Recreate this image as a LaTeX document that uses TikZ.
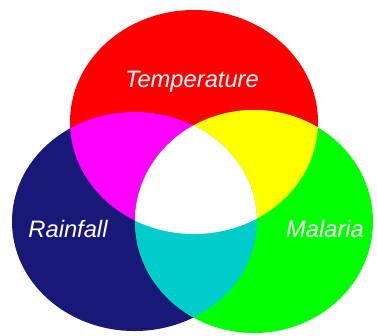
\documentclass[tikz,border=0pt]{standalone}
\usepackage{fontspec}
\setmainfont{Liberation Sans}
\definecolor{heatred}{RGB}{255,0,0}
\definecolor{rainblue}{RGB}{24,24,120}
\definecolor{malgreen}{RGB}{0,255,0}
\definecolor{heatrain}{RGB}{255,0,255}
\definecolor{heatmal}{RGB}{255,255,0}
\definecolor{rainmal}{RGB}{0,204,204}
\begin{document}
\begin{tikzpicture}[
                x=0.02cm, y=-0.02cm,
                tempshape/.style={x radius=124, y radius=112},
                rainshape/.style={x radius=122.5, y radius=109.5},
                malshape/.style={x radius=119, y radius=111.5},
                setlabel/.style={text=white, inner sep=0pt, font=\fontsize{13.5}{16}\selectfont\itshape}
            ]
            \useasboundingbox (0,0) rectangle (377,335);
            \fill[white] (0,0) rectangle (377,335);

            \coordinate (temp) at (194,122);
            \coordinate (rain) at (134.5,221.5);
            \coordinate (mal) at (254,221.5);

            % the three sets
            \fill[heatred] (temp) ellipse [tempshape];
            \fill[rainblue] (rain) ellipse [rainshape];
            \fill[malgreen] (mal) ellipse [malshape];

            % pairwise overlaps
            \begin{scope}
                \clip (temp) ellipse [tempshape];
                \fill[heatrain] (rain) ellipse [rainshape];
                \fill[heatmal] (mal) ellipse [malshape];
            \end{scope}
            \begin{scope}
                \clip (rain) ellipse [rainshape];
                \fill[rainmal] (mal) ellipse [malshape];
            \end{scope}

            % all three
            \begin{scope}
                \clip (temp) ellipse [tempshape];
                \clip (rain) ellipse [rainshape];
                \fill[white] (mal) ellipse [malshape];
            \end{scope}

            \node[setlabel] (templabel) at (192,82) {Temperature};
            \node[setlabel] (rainlabel) at (68,229) {Rainfall};
            \node[setlabel] (mallabel) at (325,229) {Malaria};
        \end{tikzpicture}
\end{document}
